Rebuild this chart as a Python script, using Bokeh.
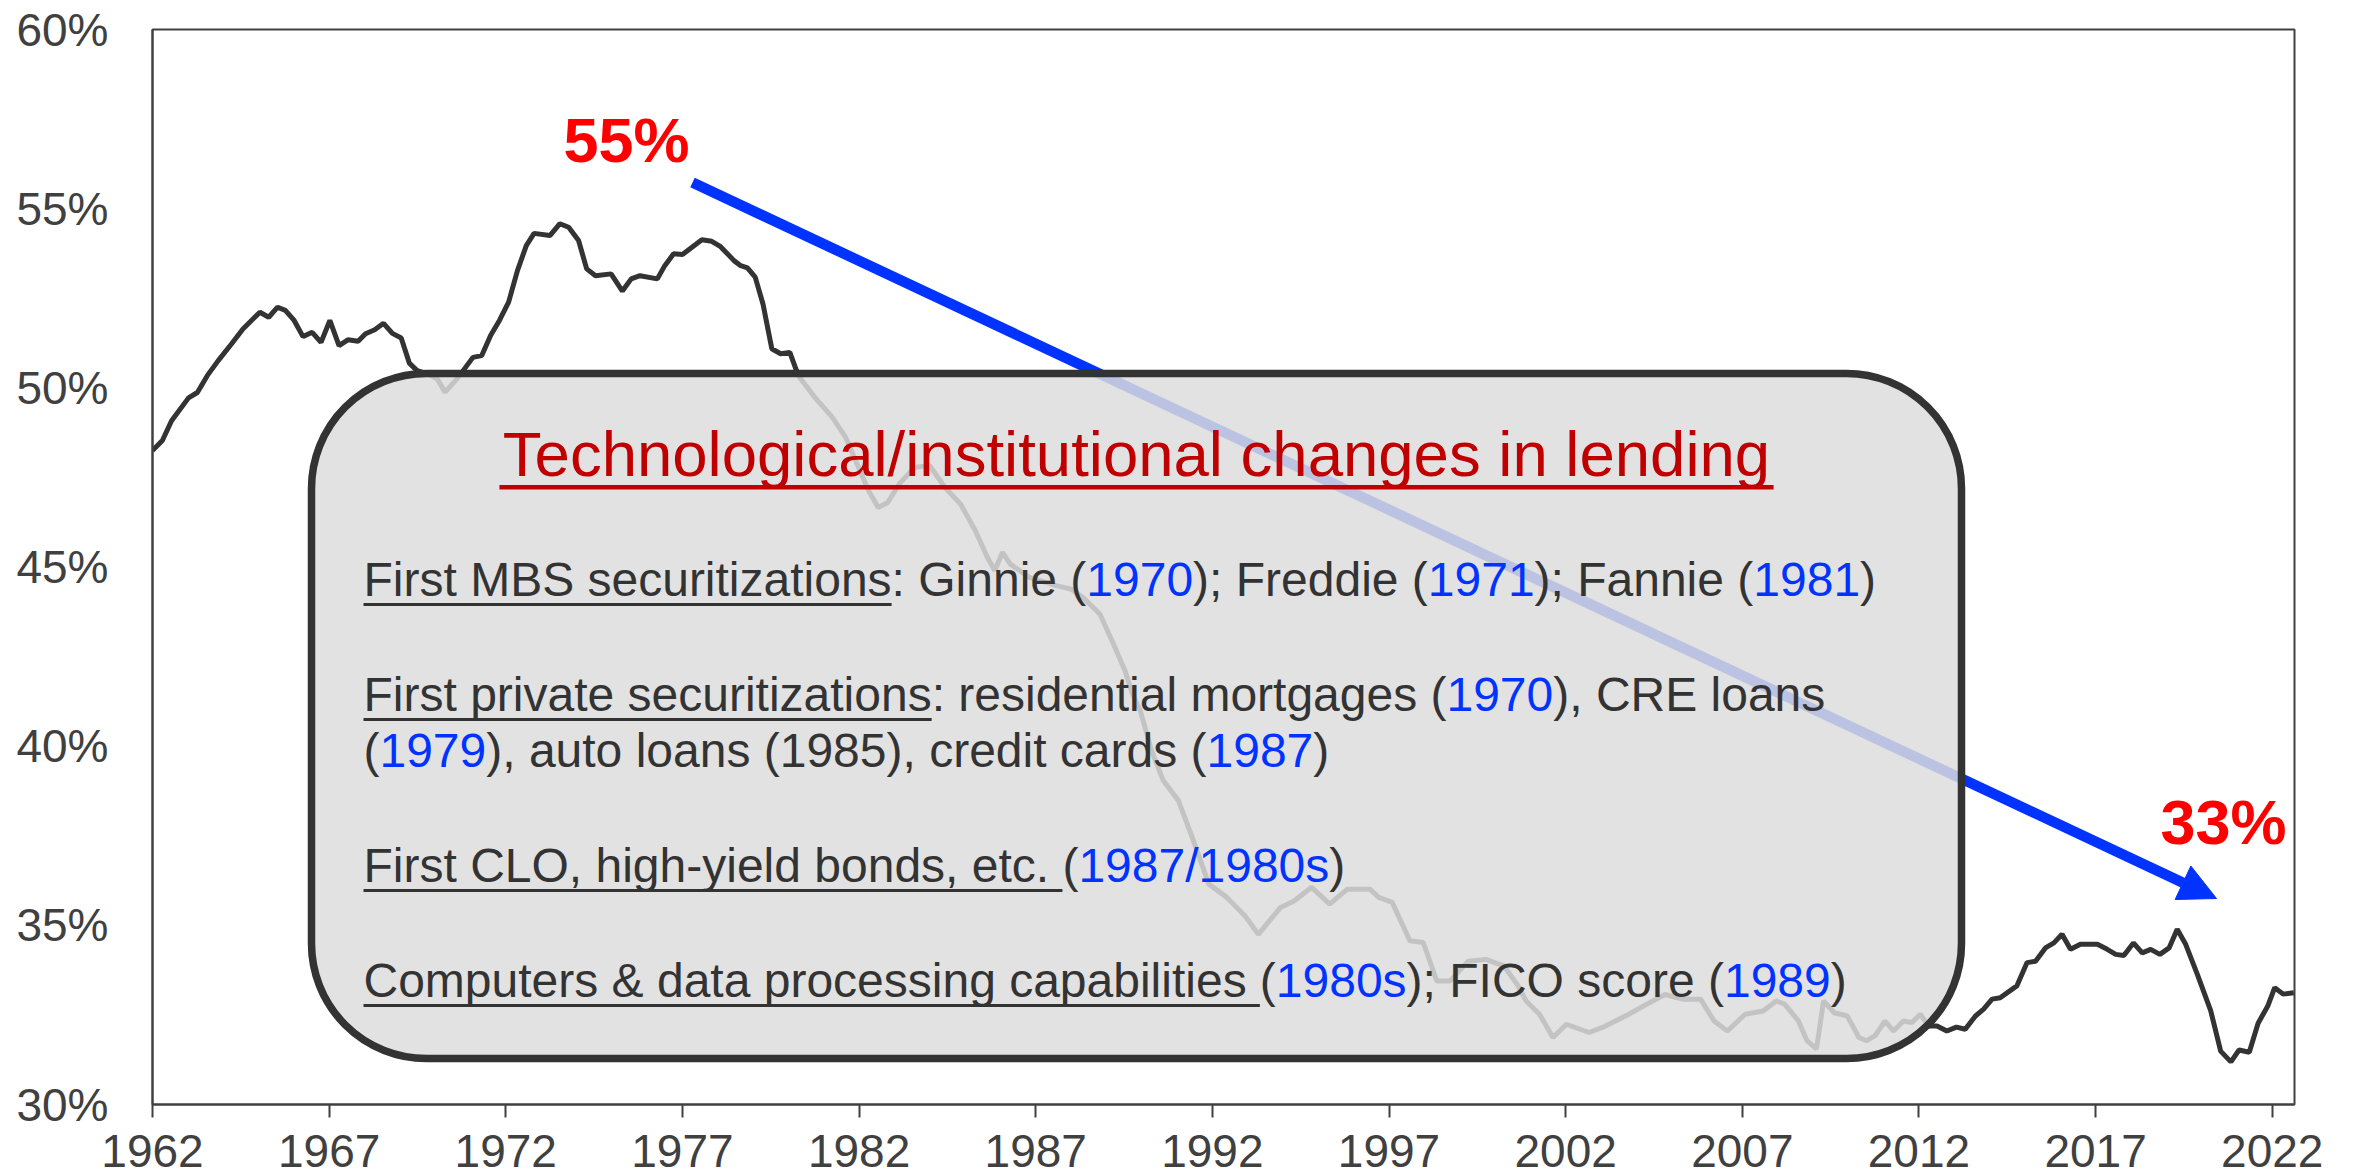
from bokeh.plotting import figure
from bokeh.models import (Range1d, FixedTicker, PrintfTickFormatter, BoxAnnotation,
                          Label, Arrow, NormalHead)
from bokeh.embed import file_html
from bokeh.resources import INLINE

# ---------------- data ----------------
years = [1962.0, 1962.28, 1962.54, 1963.02, 1963.27, 1963.55, 1963.86, 1964.24, 1964.56,
         1965.04, 1965.29, 1965.54, 1965.76, 1966.01, 1966.26, 1966.52, 1966.77, 1967.02,
         1967.28, 1967.53, 1967.82, 1968.03, 1968.29, 1968.54, 1968.79, 1969.04, 1969.27,
         1969.49, 1969.75, 1970.06, 1970.28, 1970.62, 1971.07, 1971.32, 1971.57, 1971.82,
         1972.08, 1972.33, 1972.58, 1972.8, 1973.25, 1973.53, 1973.78, 1974.06, 1974.29,
         1974.54, 1974.98, 1975.3, 1975.55, 1975.8, 1976.29, 1976.5, 1976.75, 1977.0,
         1977.55, 1977.83, 1978.08, 1978.46, 1978.65, 1978.84, 1979.06, 1979.28, 1979.53,
         1979.78, 1980.04, 1980.21, 1980.32, 1980.75, 1981.24, 1981.62, 1981.94, 1982.27,
         1982.54, 1982.81, 1983.14, 1983.57, 1984.0, 1984.43, 1984.87, 1985.3, 1985.63,
         1985.84, 1986.06, 1986.28, 1986.82, 1987.58, 1988.01, 1988.34, 1988.82, 1989.2,
         1989.53, 1989.74, 1989.96, 1990.28, 1990.61, 1991.04, 1991.45, 1991.9, 1992.41,
         1992.92, 1993.3, 1993.93, 1994.3, 1994.81, 1995.32, 1995.82, 1996.46, 1996.71,
         1997.09, 1997.59, 1997.97, 1998.35, 1998.73, 1999.24, 1999.74, 2000.25, 2000.63,
         2000.88, 2001.26, 2001.64, 2002.02, 2002.66, 2003.04, 2003.41, 2003.79, 2004.3,
         2004.81, 2005.31, 2005.82, 2006.2, 2006.58, 2007.08, 2007.59, 2007.96, 2008.2,
         2008.59, 2008.83, 2009.1, 2009.3, 2009.6, 2009.97, 2010.3, 2010.52, 2010.76,
         2011.04, 2011.28, 2011.56, 2011.8, 2012.04, 2012.27, 2012.51, 2012.79, 2013.06,
         2013.31, 2013.6, 2013.83, 2014.07, 2014.3, 2014.77, 2015.06, 2015.3, 2015.58,
         2015.82, 2016.05, 2016.29, 2016.57, 2017.05, 2017.33, 2017.57, 2017.8, 2018.07,
         2018.32, 2018.56, 2018.82, 2019.08, 2019.31, 2019.55, 2019.88, 2020.26, 2020.54,
         2020.83, 2021.06, 2021.35, 2021.6, 2021.87, 2022.07, 2022.31, 2022.61]
share = [48.25, 48.53, 49.08, 49.72, 49.87, 50.34, 50.76, 51.23, 51.64,
         52.11, 51.97, 52.25, 52.16, 51.88, 51.43, 51.55, 51.27, 51.88,
         51.18, 51.34, 51.30, 51.51, 51.62, 51.80, 51.52, 51.39, 50.69,
         50.48, 50.40, 50.25, 49.88, 50.25, 50.85, 50.90, 51.46, 51.88,
         52.39, 53.27, 53.97, 54.31, 54.25, 54.58, 54.48, 54.11, 53.32,
         53.13, 53.18, 52.70, 53.04, 53.13, 53.04, 53.41, 53.74, 53.72,
         54.13, 54.09, 53.94, 53.55, 53.41, 53.35, 53.09, 52.34, 51.09,
         50.95, 50.99, 50.53, 50.29, 49.73, 49.18, 48.62, 47.88, 47.13,
         46.66, 46.80, 47.32, 47.78, 47.83, 47.22, 46.76, 46.00, 45.27,
         44.90, 45.41, 45.08, 44.71, 44.48, 44.38, 44.15, 43.68, 42.85,
         42.10, 41.45, 40.99, 39.87, 39.04, 38.48, 37.40, 36.15, 35.78,
         35.27, 34.75, 35.50, 35.67, 36.06, 35.59, 36.01, 36.01, 35.78,
         35.64, 34.57, 34.52, 33.45, 33.45, 34.00, 34.05, 33.87, 33.35,
         32.89, 32.52, 31.87, 32.24, 32.01, 32.15, 32.33, 32.52, 32.80,
         33.07, 32.94, 32.94, 32.33, 32.05, 32.52, 32.61, 32.89, 32.80,
         32.33, 31.78, 31.55, 32.89, 32.56, 32.47, 31.87, 31.78, 31.92,
         32.33, 32.05, 32.33, 32.29, 32.52, 32.19, 32.19, 32.05, 32.16,
         32.10, 32.47, 32.66, 32.94, 32.98, 33.31, 33.96, 34.00, 34.37,
         34.51, 34.75, 34.33, 34.47, 34.47, 34.33, 34.19, 34.16, 34.51,
         34.23, 34.33, 34.19, 34.37, 34.89, 34.47, 33.63, 32.61, 31.49,
         31.19, 31.52, 31.46, 32.27, 32.74, 33.26, 33.08, 33.12]

x_ticks = [1962, 1967, 1972, 1977, 1982, 1987, 1992, 1997, 2002, 2007, 2012, 2017, 2022]
y_ticks = [30, 35, 40, 45, 50, 55, 60]

start_label = "55%"
end_label = "33%"
box_title = "Technological/institutional changes in lending"
# segments: (text, kind)  kind: u = underlined, n = normal, b = blue year
box_lines = [
    [("First MBS securitizations", "u"), (": Ginnie (", "n"), ("1970", "b"), ("); Freddie (", "n"),
     ("1971", "b"), ("); Fannie (", "n"), ("1981", "b"), (")", "n")],
    [("First private securitizations", "u"), (": residential mortgages (", "n"), ("1970", "b"),
     ("), CRE loans", "n")],
    [("(", "n"), ("1979", "b"), ("), auto loans (1985), credit cards (", "n"), ("1987", "b"), (")", "n")],
    [("First CLO, high-yield bonds, etc. ", "u"), ("(", "n"), ("1987/1980s", "b"), (")", "n")],
    [("Computers & data processing capabilities ", "u"), ("(", "n"), ("1980s", "b"),
     ("); FICO score (", "n"), ("1989", "b"), (")", "n")],
]

# ---------------- layout / style ----------------
FONT = "Liberation Sans"
DARK = "#404040"
BLUE = "#0033FF"
FRAME_W, FRAME_H = 2142, 1075
LEFT, TOP = 152.0, 29.0          # page pixel position of the plot frame
X0, X1 = 1962.0, 2022.63
Y0, Y1 = 30.0, 60.0
SX = FRAME_W / (X1 - X0)
SY = FRAME_H / (Y1 - Y0)
BASE_FIX = 0.38                  # label baseline correction (em)


def dx(px):
    return X0 + (px - LEFT) / SX


def dy(py):
    return Y1 - (py - TOP) / SY


# Arial / Liberation Sans advance widths (per 1000 em)
AW = {' ': 278, '!': 278, '%': 889, '&': 667, '(': 333, ')': 333, ',': 278, '-': 333, '.': 278,
      '/': 278, ':': 278, ';': 278, 'A': 667, 'B': 667, 'C': 722, 'D': 722, 'E': 667, 'F': 611,
      'G': 778, 'H': 722, 'I': 278, 'J': 500, 'K': 667, 'L': 556, 'M': 833, 'N': 722, 'O': 778,
      'P': 667, 'Q': 778, 'R': 722, 'S': 667, 'T': 611, 'U': 722, 'V': 667, 'W': 944, 'X': 667,
      'Y': 667, 'Z': 611, 'a': 556, 'b': 556, 'c': 500, 'd': 556, 'e': 556, 'f': 278, 'g': 556,
      'h': 556, 'i': 222, 'j': 222, 'k': 500, 'l': 222, 'm': 833, 'n': 556, 'o': 556, 'p': 556,
      'q': 556, 'r': 333, 's': 500, 't': 278, 'u': 556, 'v': 500, 'w': 722, 'x': 500, 'y': 500,
      'z': 500}


def tw(s, size):
    return sum(AW.get(c, 556) for c in s) * size / 1000.0


def label(px, base, text, size, color, align="left", style="normal"):
    return Label(x=dx(px), y=dy(base - BASE_FIX * size), text=text, text_align=align,
                 text_baseline="alphabetic", text_font=FONT, text_font_style=style,
                 text_font_size=f"{size}px", text_color=color)


def bar(x_left, x_right, y_top, y_bottom, color):
    return BoxAnnotation(left=dx(x_left), right=dx(x_right), top=dy(y_top), bottom=dy(y_bottom),
                         fill_color=color, fill_alpha=1, line_alpha=0)


p = figure(frame_width=FRAME_W, frame_height=FRAME_H,
           x_range=Range1d(X0, X1), y_range=Range1d(Y0, Y1),
           output_backend="svg", toolbar_location=None,
           min_border_left=int(LEFT), min_border_top=int(TOP), min_border_right=40,
           min_border_bottom=72,
           background_fill_color="white", border_fill_color="white")

p.grid.visible = False
p.outline_line_color = DARK
p.outline_line_width = 2

xa = p.xaxis[0]
ya = p.yaxis[0]
xa.ticker = FixedTicker(ticks=x_ticks)
ya.ticker = FixedTicker(ticks=y_ticks)
ya.formatter = PrintfTickFormatter(format="%d%%")
for ax in (xa, ya):
    ax.axis_line_color = DARK
    ax.axis_line_width = 2
    ax.major_label_text_font = FONT
    ax.major_label_text_font_size = "46px"
    ax.major_label_text_color = DARK
    ax.minor_tick_line_color = None
xa.major_tick_out = 13
xa.major_tick_in = 0
xa.major_tick_line_color = DARK
xa.major_tick_line_width = 2
xa.major_label_standoff = 17
ya.major_tick_line_color = None
ya.major_tick_out = 0
ya.major_tick_in = 0
ya.major_label_standoff = 44

p.line(years, share, line_color="#333333", line_width=5)

# arrow (drawn before the box so the box fades it)
p.add_layout(Arrow(x_start=dx(692), y_start=dy(182), x_end=dx(2216), y_end=dy(898),
                   line_color=BLUE, line_width=10.5,
                   end=NormalHead(size=37, fill_color=BLUE, line_color=BLUE, line_width=1)))

# translucent rounded box
p.add_layout(BoxAnnotation(left=dx(311), right=dx(1961), top=dy(373), bottom=dy(1058),
                           fill_color="#DDDDDD", fill_alpha=0.85,
                           line_color="#333333", line_alpha=1, line_width=7.5,
                           border_radius=115))

# box title
TITLE_SIZE = 63.5
tcx = 1136
p.add_layout(label(tcx, 478, box_title, TITLE_SIZE, "#C00000", align="center"))
tww = tw(box_title, TITLE_SIZE)
p.add_layout(bar(tcx - tww / 2, tcx + tww / 2, 484.5, 489, "#C00000"))

# box body
BODY_SIZE = 48
BODY_LEFT = 363
baselines = [597, 712, 768, 883, 998]
for segs, base in zip(box_lines, baselines):
    x = BODY_LEFT
    for text, kind in segs:
        w = tw(text, BODY_SIZE)
        p.add_layout(label(x, base, text, BODY_SIZE, BLUE if kind == "b" else "#333333"))
        if kind == "u":
            p.add_layout(bar(x, x + w, base + 5.5, base + 8.5, "#333333"))
        x += w

# red value labels
for txt, cx, base in ((start_label, 626, 163), (end_label, 2223, 845)):
    p.add_layout(label(cx, base, txt, 63, "#FF0000", align="center", style="bold"))

open("out.html", "w").write(file_html(p, INLINE))
